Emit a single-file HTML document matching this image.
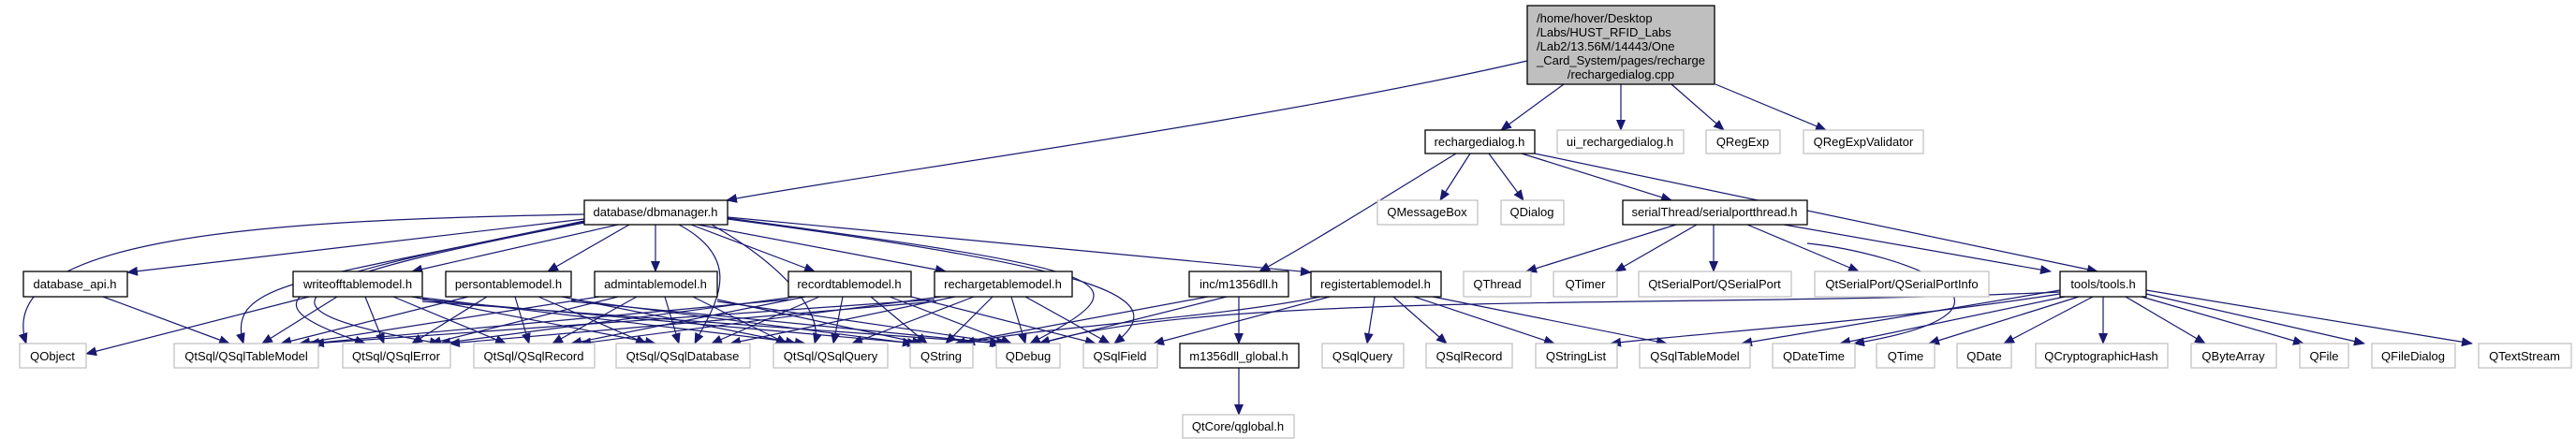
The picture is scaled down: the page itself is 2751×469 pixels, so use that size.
<!DOCTYPE html>
<html><head><meta charset="utf-8"><style>
html,body{margin:0;padding:0;background:#fff;}
svg{display:block;}
text{font-family:"Liberation Sans",sans-serif;font-size:13px;fill:#000;}
.e{fill:none;stroke:#191970;stroke-width:1.2;marker-end:url(#a);}
.g{fill:#fff;stroke:#bfbfbf;stroke-width:1.2;}
.b{fill:#fff;stroke:#000;stroke-width:1.3;}
</style></head><body>
<svg width="2751" height="469" viewBox="0 0 2751 469" xmlns="http://www.w3.org/2000/svg">
<defs><marker id="a" markerUnits="userSpaceOnUse" markerWidth="12" markerHeight="10" refX="11" refY="5" orient="auto"><path d="M0,0 L12,5 L0,10 z" fill="#191970"/></marker></defs>
<g>
<path class="e" d="M1631,65 C1350,130 900,190 776,214"/>
<path class="e" d="M1670,90 L1603,139"/>
<path class="e" d="M1731,90 L1731,139"/>
<path class="e" d="M1785,90 L1841,139"/>
<path class="e" d="M1832,90 L1950,139"/>
<path class="e" d="M1570,164 L1538,214"/>
<path class="e" d="M1590,164 L1627,214"/>
<path class="e" d="M1625,164 L1785,214"/>
<path class="e" d="M1555,164 C1480,210 1400,260 1345,290"/>
<path class="e" d="M1639,164 C1900,220 2100,260 2240,290"/>
<path class="e" d="M1790,240 L1630,290"/>
<path class="e" d="M1812,240 L1725,290"/>
<path class="e" d="M1830,240 L1830,290"/>
<path class="e" d="M1866,240 L1985,290"/>
<path class="e" d="M1905,240 L2190,290"/>
<path class="e" d="M1930,260 C2030,270 2200,330 1980,367"/>
<path class="e" d="M624,229 C300,235 -10,250 28,367"/>
<path class="e" d="M624,234 L136,291"/>
<path class="e" d="M660,240 L440,290"/>
<path class="e" d="M672,240 L585,290"/>
<path class="e" d="M700,240 L700,290"/>
<path class="e" d="M738,240 L870,290"/>
<path class="e" d="M745,240 L1010,290"/>
<path class="e" d="M777,232 L1400,291"/>
<path class="e" d="M624,236 C330,300 240,300 260,367"/>
<path class="e" d="M624,237 C300,300 250,320 390,367"/>
<path class="e" d="M624,238 C300,300 250,330 470,367"/>
<path class="e" d="M725,240 C800,280 760,330 742,367"/>
<path class="e" d="M760,240 C830,280 880,330 870,367"/>
<path class="e" d="M777,233 C1200,290 1230,300 1100,367"/>
<path class="e" d="M777,234 C1200,290 1250,320 1190,367"/>
<path class="e" d="M330,317 L92,378"/>
<path class="e" d="M360,317 L280,367"/>
<path class="e" d="M390,317 L410,367"/>
<path class="e" d="M420,317 L540,367"/>
<path class="e" d="M440,317 L700,367"/>
<path class="e" d="M451,318 L860,367"/>
<path class="e" d="M451,320 L980,367"/>
<path class="e" d="M451,322 L1070,367"/>
<path class="e" d="M500,317 L300,367"/>
<path class="e" d="M520,317 L440,367"/>
<path class="e" d="M550,317 L565,367"/>
<path class="e" d="M575,317 L690,367"/>
<path class="e" d="M600,317 L850,367"/>
<path class="e" d="M610,320 L975,367"/>
<path class="e" d="M610,322 L1068,367"/>
<path class="e" d="M640,317 L320,367"/>
<path class="e" d="M660,317 L460,367"/>
<path class="e" d="M680,317 L590,367"/>
<path class="e" d="M710,317 L725,367"/>
<path class="e" d="M740,317 L840,367"/>
<path class="e" d="M766,320 L985,367"/>
<path class="e" d="M766,322 L1075,367"/>
<path class="e" d="M842,320 L330,367"/>
<path class="e" d="M850,317 L470,367"/>
<path class="e" d="M860,317 L610,367"/>
<path class="e" d="M875,317 L760,367"/>
<path class="e" d="M900,317 L890,367"/>
<path class="e" d="M930,317 L990,367"/>
<path class="e" d="M950,317 L1080,367"/>
<path class="e" d="M973,317 L1170,367"/>
<path class="e" d="M998,320 L335,367"/>
<path class="e" d="M1000,322 L480,367"/>
<path class="e" d="M1005,317 L620,367"/>
<path class="e" d="M1020,317 L780,367"/>
<path class="e" d="M1040,317 L910,367"/>
<path class="e" d="M1060,317 L1010,367"/>
<path class="e" d="M1080,317 L1095,367"/>
<path class="e" d="M1095,317 L1185,367"/>
<path class="e" d="M110,317 L245,367"/>
<path class="e" d="M1290,317 L1020,367"/>
<path class="e" d="M1310,317 L1110,367"/>
<path class="e" d="M1323,317 L1323,367"/>
<path class="e" d="M1420,317 L1232,367"/>
<path class="e" d="M1468,317 L1460,367"/>
<path class="e" d="M1488,317 L1545,367"/>
<path class="e" d="M1510,317 L1660,367"/>
<path class="e" d="M1530,317 L1780,367"/>
<path class="e" d="M1410,317 C1300,340 1100,350 1030,367"/>
<path class="e" d="M1323,393 L1323,443"/>
<path class="e" d="M2200,310 L1860,367"/>
<path class="e" d="M2205,317 L1965,367"/>
<path class="e" d="M2220,317 L2060,367"/>
<path class="e" d="M2235,317 L2140,367"/>
<path class="e" d="M2246,317 L2246,367"/>
<path class="e" d="M2270,317 L2355,367"/>
<path class="e" d="M2287,317 L2460,367"/>
<path class="e" d="M2292,314 L2525,367"/>
<path class="e" d="M2292,310 L2640,367"/>
<path class="e" d="M2200,314 C2000,345 1820,355 1720,367"/>
<path class="e" d="M2200,312 C1800,330 1300,310 1110,367"/>
</g>
<g>
<rect x="1631" y="6" width="200" height="84" fill="#bfbfbf" stroke="#000" stroke-width="1.3"/>
<text x="1641" y="24">/home/hover/Desktop</text>
<text x="1641" y="39">/Labs/HUST_RFID_Labs</text>
<text x="1641" y="54">/Lab2/13.56M/14443/One</text>
<text x="1641" y="69">_Card_System/pages/recharge</text>
<text x="1731" y="84" text-anchor="middle">/rechargedialog.cpp</text>
</g>
<g text-anchor="middle">
<rect class="b" x="1522" y="139" width="117" height="25"/><text x="1580" y="156">rechargedialog.h</text>
<rect class="g" x="1663" y="139" width="135" height="25"/><text x="1730" y="156">ui_rechargedialog.h</text>
<rect class="g" x="1822" y="139" width="79" height="25"/><text x="1861" y="156">QRegExp</text>
<rect class="g" x="1926" y="139" width="128" height="25"/><text x="1990" y="156">QRegExpValidator</text>

<rect class="b" x="624" y="214" width="153" height="26"/><text x="700" y="231">database/dbmanager.h</text>
<rect class="g" x="1471" y="214" width="107" height="26"/><text x="1524" y="231">QMessageBox</text>
<rect class="g" x="1603" y="214" width="67" height="26"/><text x="1636" y="231">QDialog</text>
<rect class="b" x="1733" y="214" width="197" height="26"/><text x="1831" y="231">serialThread/serialportthread.h</text>

<rect class="b" x="25" y="290" width="111" height="27"/><text x="80" y="308">database_api.h</text>
<rect class="b" x="313" y="290" width="138" height="27"/><text x="382" y="308">writeofftablemodel.h</text>
<rect class="b" x="476" y="290" width="134" height="27"/><text x="543" y="308">persontablemodel.h</text>
<rect class="b" x="635" y="290" width="131" height="27"/><text x="700" y="308">admintablemodel.h</text>
<rect class="b" x="842" y="290" width="131" height="27"/><text x="907" y="308">recordtablemodel.h</text>
<rect class="b" x="998" y="290" width="147" height="27"/><text x="1071" y="308">rechargetablemodel.h</text>
<rect class="b" x="1270" y="290" width="106" height="27"/><text x="1323" y="308">inc/m1356dll.h</text>
<rect class="b" x="1400" y="290" width="139" height="27"/><text x="1469" y="308">registertablemodel.h</text>
<rect class="g" x="1563" y="290" width="72" height="27"/><text x="1599" y="308">QThread</text>
<rect class="g" x="1659" y="290" width="68" height="27"/><text x="1693" y="308">QTimer</text>
<rect class="g" x="1750" y="290" width="163" height="27"/><text x="1831" y="308">QtSerialPort/QSerialPort</text>
<rect class="g" x="1938" y="290" width="186" height="27"/><text x="2031" y="308">QtSerialPort/QSerialPortInfo</text>
<rect class="b" x="2200" y="290" width="92" height="27"/><text x="2246" y="308">tools/tools.h</text>

<rect class="g" x="21" y="367" width="71" height="26"/><text x="56" y="385">QObject</text>
<rect class="g" x="186" y="367" width="154" height="26"/><text x="263" y="385">QtSql/QSqlTableModel</text>
<rect class="g" x="366" y="367" width="115" height="26"/><text x="423" y="385">QtSql/QSqlError</text>
<rect class="g" x="506" y="367" width="129" height="26"/><text x="570" y="385">QtSql/QSqlRecord</text>
<rect class="g" x="658" y="367" width="143" height="26"/><text x="729" y="385">QtSql/QSqlDatabase</text>
<rect class="g" x="826" y="367" width="122" height="26"/><text x="887" y="385">QtSql/QSqlQuery</text>
<rect class="g" x="972" y="367" width="67" height="26"/><text x="1005" y="385">QString</text>
<rect class="g" x="1064" y="367" width="68" height="26"/><text x="1098" y="385">QDebug</text>
<rect class="g" x="1157" y="367" width="79" height="26"/><text x="1196" y="385">QSqlField</text>
<rect class="b" x="1260" y="367" width="127" height="26"/><text x="1323" y="385">m1356dll_global.h</text>
<rect class="g" x="1412" y="367" width="87" height="26"/><text x="1455" y="385">QSqlQuery</text>
<rect class="g" x="1523" y="367" width="92" height="26"/><text x="1569" y="385">QSqlRecord</text>
<rect class="g" x="1640" y="367" width="87" height="26"/><text x="1683" y="385">QStringList</text>
<rect class="g" x="1751" y="367" width="118" height="26"/><text x="1810" y="385">QSqlTableModel</text>
<rect class="g" x="1893" y="367" width="88" height="26"/><text x="1937" y="385">QDateTime</text>
<rect class="g" x="2004" y="367" width="62" height="26"/><text x="2035" y="385">QTime</text>
<rect class="g" x="2090" y="367" width="58" height="26"/><text x="2119" y="385">QDate</text>
<rect class="g" x="2174" y="367" width="141" height="26"/><text x="2244" y="385">QCryptographicHash</text>
<rect class="g" x="2340" y="367" width="91" height="26"/><text x="2385" y="385">QByteArray</text>
<rect class="g" x="2456" y="367" width="52" height="26"/><text x="2482" y="385">QFile</text>
<rect class="g" x="2533" y="367" width="89" height="26"/><text x="2577" y="385">QFileDialog</text>
<rect class="g" x="2647" y="367" width="99" height="26"/><text x="2696" y="385">QTextStream</text>

<rect class="g" x="1263" y="443" width="119" height="25"/><text x="1322" y="460">QtCore/qglobal.h</text>
</g>
</svg>
</body></html>
